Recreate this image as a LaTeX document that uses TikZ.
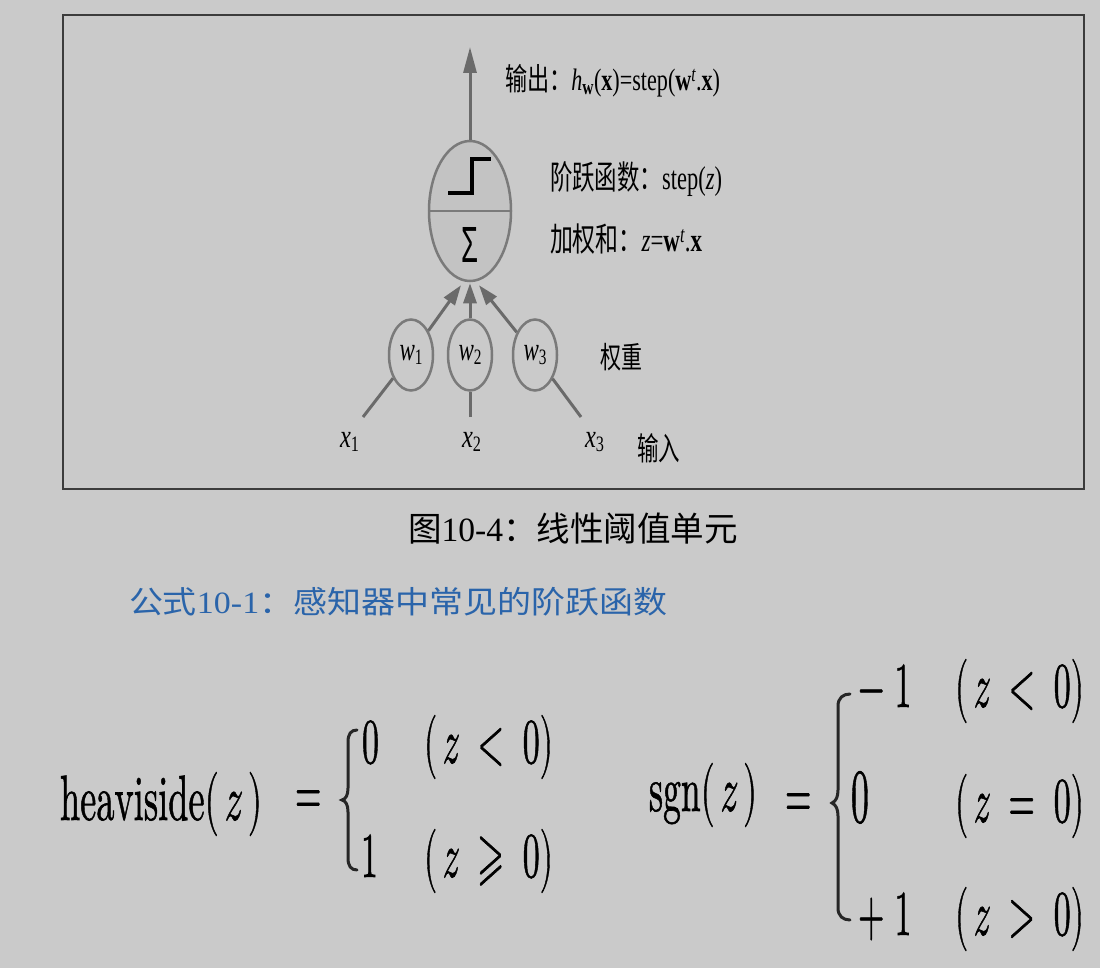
\documentclass[tikz,border=0pt]{standalone}
\usepackage{fontspec}
\usepackage{graphicx}
\usetikzlibrary{shapes.geometric,arrows.meta}
\newfontfamily\cjk{Noto Sans CJK SC}
\newfontfamily\tnr{Liberation Serif}
\newfontfamily\sfsig{Liberation Sans}
\newfontfamily\lmm[FakeBold=1.1]{latinmodern-math.otf}
\definecolor{bg}{HTML}{CACACA}
\definecolor{framec}{HTML}{3C3C3C}
\definecolor{connc}{HTML}{6A6A6A}
\definecolor{wgray}{HTML}{7A7A7A}
\definecolor{neufill}{HTML}{C3C3C3}
\definecolor{titleblue}{HTML}{2A64AA}
\newcommand\rs{\hspace{0.556em}}
\newcommand\ts{\hspace{0.167em}}
\newcommand\fw[2]{\resizebox{#1}{\height}{\fontsize{64}{70}\lmm #2}}
\newcommand\fs[1]{\scalebox{0.53}[1]{\fontsize{64}{70}\lmm #1}}
\newcommand\xlab[1]{\resizebox{19pt}{\height}{\tnr\fontsize{33}{36}\selectfont\itshape x\raisebox{-4pt}{\upshape\fontsize{22}{24}\selectfont #1}}}
\newcommand\wlab[1]{\resizebox{23pt}{\height}{\tnr\fontsize{33}{36}\selectfont\itshape w\raisebox{-4pt}{\upshape\fontsize{22}{24}\selectfont #1}}}
\begin{document}
\begin{tikzpicture}[x=1pt,y=-1pt,
  neuron/.style={ellipse,draw=wgray,line width=2.5pt,fill=neufill,minimum width=82pt,minimum height=140pt,inner sep=0pt},
  wnode/.style={ellipse,draw=wgray,line width=2.5pt,minimum width=44pt,minimum height=71pt,inner sep=0pt},
  conn/.style={draw=connc,line width=3pt},
  arrin/.style={-{Triangle[length=20pt,width=13pt]}},
  arrout/.style={-{Triangle[length=26pt,width=13pt]}},
  lab/.style={inner sep=0pt,outer sep=0pt,anchor=base west},
  stepglyph/.style={draw=black,line width=4pt},
  divline/.style={draw=wgray,line width=2.5pt},
  bracestyle/.style={draw=black!85,line width=3pt,line cap=round},
  framebox/.style={draw=framec,line width=2.2pt}]
\fill[bg] (0,0) rectangle (1100,968);
\useasboundingbox (0,0) rectangle (1100,968);
\draw[framebox] (63,15) rectangle (1084,489);
% neuron
\node[neuron] (neu) at (470,211) {};
\draw[divline] (neu.west) -- (neu.east);
\draw[stepglyph] (448,193) -- (472,193) -- (472,159) -- (491,159);
\node[inner sep=0pt,anchor=base] (sig) at (470,262) {\resizebox{17pt}{35pt}{\sfsig Σ}};
\coordinate (outtip) at (470,47);
\draw[conn,arrout] (neu.north) -- (outtip);
% weights
\node[wnode] (w1) at (411,355) {\wlab{1}};
\node[wnode] (w2) at (470,355) {\wlab{2}};
\node[wnode] (w3) at (535,355) {\wlab{3}};
\draw[conn,arrin] (w1) -- ([xshift=-9pt,yshift=-3pt]neu.south);
\draw[conn,arrin] (w2) -- ([yshift=-1pt]neu.south);
\draw[conn,arrin] (w3) -- ([xshift=9pt,yshift=-3pt]neu.south);
% inputs
\coordinate (x1e) at (363,417);
\coordinate (x2e) at (470,417);
\coordinate (x3e) at (581,417);
\draw[conn] (x1e) -- (w1);
\draw[conn] (x2e) -- (w2);
\draw[conn] (x3e) -- (w3);
\node[lab] (x1) at (340,447) {\xlab{1}};
\node[lab] (x2) at (462,447) {\xlab{2}};
\node[lab] (x3) at (585,447) {\xlab{3}};
% labels
\node[lab] (outlab) at (505,91) {\resizebox{215pt}{\height}{\fontsize{31}{34}\selectfont\cjk 输出：\tnr\itshape h\textsubscript{\upshape\bfseries w}\upshape(\textbf{x})=step(\textbf{w}\textsuperscript{\itshape t}.\textbf{x})}};
\node[lab] (steplab) at (550,190) {\resizebox{172pt}{\height}{\fontsize{33}{36}\selectfont\cjk 阶跃函数：\tnr step(\textit{z})}};
\node[lab] (sumlab) at (550,252) {\resizebox{152pt}{\height}{\fontsize{33}{36}\selectfont\cjk 加权和：\tnr\textit{z}=\textbf{w}\textsuperscript{\itshape t}.\textbf{x}}};
\node[lab] (wtlab) at (600,368) {\resizebox{42pt}{\height}{\fontsize{30}{32}\selectfont\cjk 权重}};
\node[lab] (inlab) at (637,460) {\resizebox{43pt}{\height}{\fontsize{32}{34}\selectfont\cjk 输入}};
\node[lab] (cap) at (408,541) {\resizebox{330pt}{\height}{\fontsize{34}{36}\selectfont\cjk 图\tnr 10-4\cjk ：线性阈值单元}};
\node[lab,text=titleblue] (eqtitle) at (129,613) {\resizebox{538pt}{\height}{\fontsize{31}{34}\selectfont\cjk 公式\tnr 10-1\cjk ：感知器中常见的阶跃函数}};
% heaviside
\node[lab] (hv) at (60,820) {\fw{202pt}{heaviside(\ts 𝑧\ts)}};
\node[lab] (eqa) at (295,814) {\fs{=}};
\draw[bracestyle] (357,730) .. controls (351,730) and (348,734) .. (348,742) -- (348,788) .. controls (348,795) and (346,799) .. (342,800) .. controls (346,801) and (348,805) .. (348,812) -- (348,858) .. controls (348,866) and (351,870) .. (357,870);
\node[lab] (h11) at (362,763) {\fs{0}};
\node[lab] (h12) at (424,763) {\fs{(\ts 𝑧\rs<\rs 0)}};
\node[lab] (h21) at (361,877) {\fs{1}};
\node[lab] (h22) at (424,877) {\fs{(\ts 𝑧\rs ⩾\rs 0)}};
% sgn
\node[lab] (sg) at (649,811) {\fw{108pt}{sgn(\ts 𝑧\ts)}};
\node[lab] (eqb) at (785,817) {\fs{=}};
\draw[bracestyle] (850,694) .. controls (843,694) and (838,698) .. (838,706) -- (838,790) .. controls (838,797) and (836,801) .. (832,803) .. controls (836,805) and (838,809) .. (838,816) -- (838,908) .. controls (838,916) and (843,920) .. (850,920);
\node[lab] (s11) at (858,707) {\fs{−\hspace{0.3em}1}};
\node[lab] (s12) at (955,707) {\fs{(\ts 𝑧\rs<\rs 0)}};
\node[lab] (s21) at (851,822) {\scalebox{0.56}[1.19]{\fontsize{64}{70}\lmm 0}};
\node[lab] (s22) at (955,822) {\fs{(\ts 𝑧\rs=\rs 0)}};
\node[lab] (s31) at (858,935) {\fs{+\hspace{0.3em}1}};
\node[lab] (s32) at (955,935) {\fs{(\ts 𝑧\rs>\rs 0)}};
\end{tikzpicture}
\end{document}
